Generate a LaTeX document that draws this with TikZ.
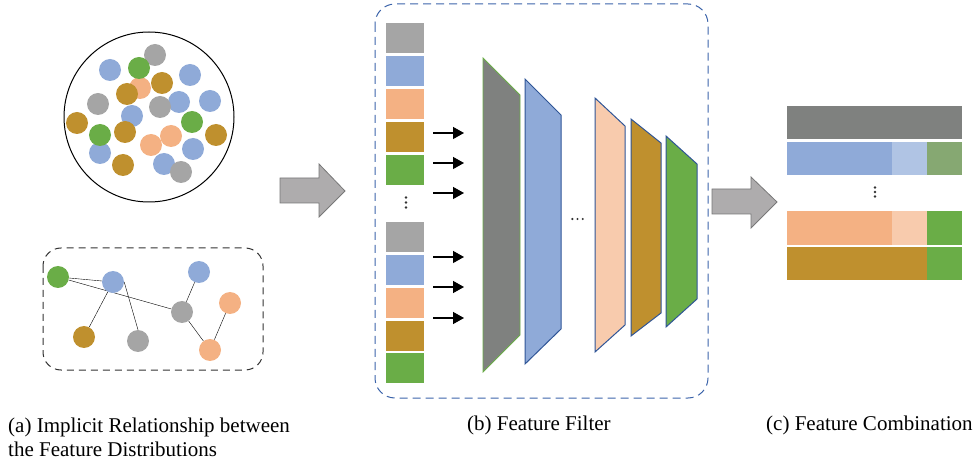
\documentclass[tikz,border=0pt]{standalone}
\usepackage{fontspec}
\setmainfont{Liberation Serif}
\usetikzlibrary{arrows.meta,backgrounds}
\definecolor{fgray}{RGB}{165,165,165}
\definecolor{fblue}{RGB}{143,170,216}
\definecolor{forange}{RGB}{244,177,131}
\definecolor{fgold}{RGB}{191,144,46}
\definecolor{fgreen}{RGB}{106,173,71}
\definecolor{ldark}{RGB}{127,129,127}
\definecolor{lorange}{RGB}{248,203,173}
\definecolor{lblue}{RGB}{176,196,228}
\definecolor{mgreen}{RGB}{134,168,114}
\definecolor{edgeblue}{RGB}{47,85,151}
\definecolor{boxblue}{RGB}{60,100,170}
\definecolor{arrowgray}{RGB}{174,172,173}
\definecolor{arrowedge}{RGB}{120,120,120}
\begin{document}
\begin{tikzpicture}[x=1pt,y=-1pt,
  dot/.style={circle,inner sep=0pt,minimum size=22pt},
  cell/.style={inner sep=0pt,minimum width=38pt,minimum height=30.5pt},
  layer/.style={draw=edgeblue,line width=1pt},
  pip/.style={fill=black!80},
  bigarrow/.style={fill=arrowgray,draw=arrowedge,line width=0.8pt},
  caption/.style={anchor=base west,inner sep=0pt,font=\fontsize{21}{24}\selectfont}]
\useasboundingbox (0,0) rectangle (980,462);

% (a) feature cloud
\draw[line width=1pt] (149,117) circle [radius=85pt];
\foreach \c/\x/\y [count=\i] in {fblue/110/70, fblue/190/75, fblue/132/116, fblue/179/102,
    fblue/210/101, fblue/100/153, fblue/193/149, fblue/164/164,
    fgray/155/55, fgray/98/104, fgray/160/107, fgray/181/172,
    forange/140/88, forange/151/145, forange/171/136,
    fgreen/139/68, fgreen/192/122, fgreen/100/135,
    fgold/162/83, fgold/127/94, fgold/77/123, fgold/125/132, fgold/216/135, fgold/123/165}
  \node[dot,fill=\c] (p\i) at (\x,\y) {};

% (a) relation graph
\draw[dashed,line width=1pt,dash pattern=on 7pt off 5pt,black!80,rounded corners=18pt]
  (43,248) rectangle (263,370);
\node[dot,fill=fgreen]  (g1) at (58,277) {};
\node[dot,fill=fblue]   (g2) at (113,282) {};
\node[dot,fill=fblue]   (g3) at (199,272) {};
\node[dot,fill=fgray]   (g4) at (182,312) {};
\node[dot,fill=forange] (g5) at (230,303) {};
\node[dot,fill=fgold]   (g6) at (84,337) {};
\node[dot,fill=fgray]   (g7) at (138,341) {};
\node[dot,fill=forange] (g8) at (210,350) {};
\begin{scope}[on background layer,line width=1pt]
  \draw (g1) -- (g2);
  \draw (g1) -- (g4);
  \draw (g2) -- (g6);
  \draw (g2.east) -- (g7.north);
  \draw (g4) -- (g3);
  \draw (g4) -- (g8);
  \draw (g8) -- (g5);
\end{scope}

% arrow (a) -> (b)
\draw[bigarrow] (280,178) -- (319,178) -- (319,164) -- (345,191) -- (319,217) -- (319,203) -- (280,203) -- cycle;

% (b) feature filter
\draw[dashed,boxblue,line width=1pt,dash pattern=on 8pt off 5pt,rounded corners=20pt]
  (375,4) rectangle (708,398);
\foreach \c/\y [count=\i] in {fgray/38, fblue/71, forange/104, fgold/137, fgreen/170,
    fgray/237, fblue/270, forange/303, fgold/336, fgreen/368}
  \node[cell,fill=\c] (s\i) at (405,\y) {};
\foreach \y in {197.5,202.5,207.5}
  \fill[pip] (406,\y) circle [radius=1.3pt];
\foreach \y in {133,163,193,257,287,318}
  \draw[-{Triangle[length=11pt,width=12pt]},line width=1.3pt] (433,\y) -- (464,\y);

\filldraw[fill=ldark,draw=fgreen,line width=0.8pt] (483,58) -- (520,95) -- (520,335) -- (483,372) -- cycle;
\filldraw[layer,fill=fblue] (525,79) -- (561,115) -- (561,329) -- (525,364) -- cycle;
\foreach \x in {572.3,577.5,582.7}
  \fill[pip] (\x,219) circle [radius=1.2pt];
\filldraw[layer,fill=lorange] (595,98) -- (625,126) -- (625,325) -- (595,352) -- cycle;
\filldraw[layer,fill=fgold] (631,119) -- (661,143) -- (661,313) -- (631,336) -- cycle;
\filldraw[layer,fill=fgreen] (666,136) -- (697,164) -- (697,299) -- (666,327) -- cycle;

% arrow (b) -> (c)
\draw[bigarrow] (712,189) -- (751,189) -- (751,177) -- (777,202) -- (751,228) -- (751,214) -- (712,214) -- cycle;

% (c) feature combination
\fill[ldark] (787,106) rectangle (962,139);
\fill[fblue] (787,142) rectangle (892,175);
\fill[lblue] (892,142) rectangle (927,175);
\fill[mgreen] (927,142) rectangle (962,175);
\foreach \y in {187.5,192,196.5}
  \fill[pip] (875,\y) circle [radius=1.3pt];
\fill[forange] (787,211) rectangle (892,245);
\fill[lorange] (892,211) rectangle (927,245);
\fill[fgreen] (927,211) rectangle (962,245);
\fill[fgold] (787,247) rectangle (927,280);
\fill[fgreen] (927,247) rectangle (962,280);

% captions
\node[caption] (capa) at (8,432) {(a) Implicit Relationship between};
\node[caption] (capa2) at (8,456) {the Feature Distributions};
\node[caption] (capb) at (467,430) {(b) Feature Filter};
\node[caption] (capc) at (766,430) {(c) Feature Combination};
\end{tikzpicture}
\end{document}
